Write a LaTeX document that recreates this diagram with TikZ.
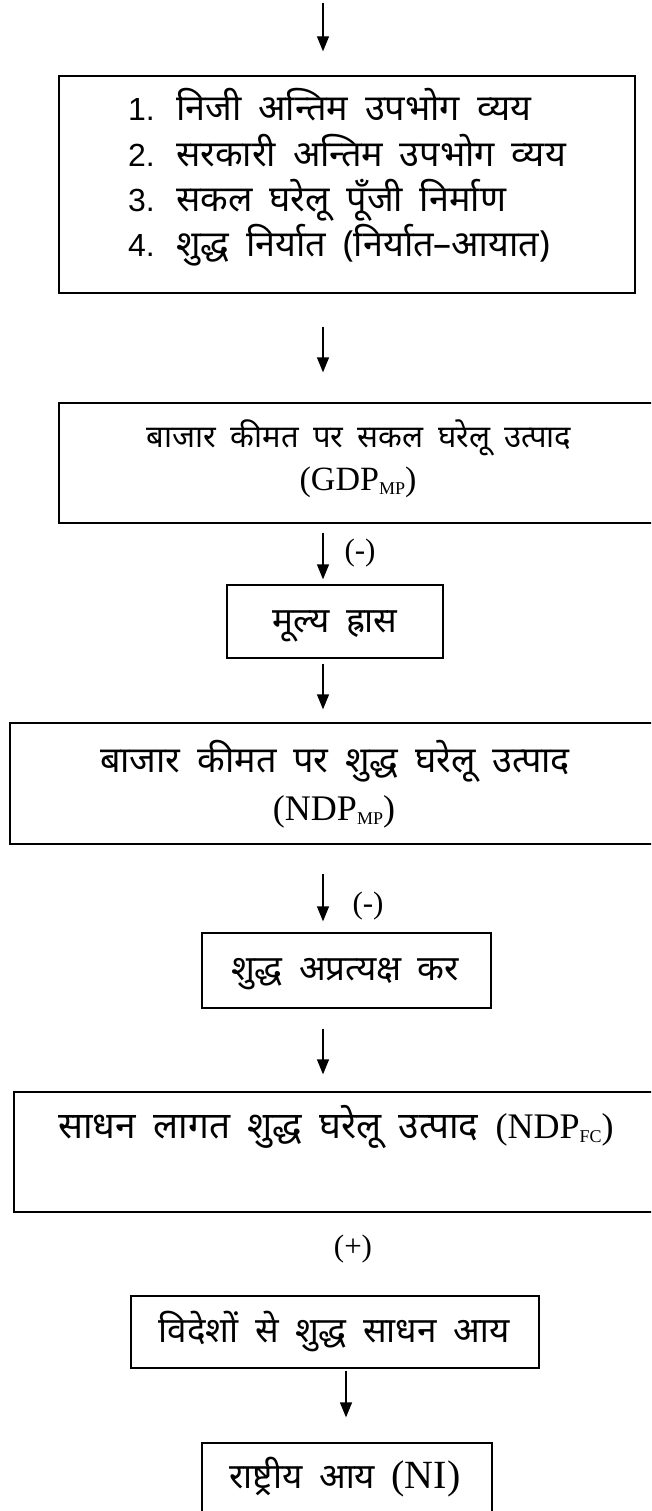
\documentclass[tikz,border=0pt]{standalone}
\usepackage{fontspec}
\setmainfont{Liberation Serif}
\newfontfamily\deva[Script=Devanagari,WordSpace=1.8]{Noto Sans}
\newfontfamily\arial{Liberation Sans}
\usetikzlibrary{arrows.meta}
\newcommand{\fs}[1]{\fontsize{#1}{#1}\selectfont}
\newcommand{\subs}[1]{\raisebox{-4pt}{\fs{18}#1}}
\tikzset{
  box/.style={draw, line width=1.3pt, inner sep=0pt, minimum width=#1},
  arr/.style={line width=1.3pt, -{Triangle[length=15pt,width=12pt]}},
  txt/.style={inner sep=0pt, anchor=base},
}
\begin{document}
\begin{tikzpicture}[x=1pt,y=-1pt]
\useasboundingbox (0,0) rectangle (651,1511);
\clip (0,0) rectangle (651,1511);
\coordinate (col) at (323,0);
\coordinate (start) at (323,3);
% boxes
\node[box=576pt, minimum height=217pt] (b1) at (347,184.5) {};
\node[box=598pt, minimum height=120pt] (b2) at (358,463) {};
\node[box=216pt, minimum height=73pt] (b3) at (335,621.5) {};
\node[box=650pt, minimum height=121pt] (b4) at (335,783.5) {};
\node[box=289pt, minimum height=75pt] (b5) at (346.5,970.5) {};
\node[box=644pt, minimum height=120pt] (b6) at (336,1152) {};
\node[box=408pt, minimum height=72pt] (b7) at (335,1332) {};
\node[box=290pt, minimum height=80pt] (b8) at (347,1483) {};
% texts
\node[txt, anchor=base west] (t1a) at (128,121) {\makebox[48pt][l]{\arial\fs{32}1.}\deva\fs{36}निजी अन्तिम उपभोग व्यय};
\node[txt, anchor=base west] (t1b) at (128,167) {\makebox[48pt][l]{\arial\fs{32}2.}\deva\fs{36}सरकारी अन्तिम उपभोग व्यय};
\node[txt, anchor=base west] (t1c) at (128,212) {\makebox[48pt][l]{\arial\fs{32}3.}\deva\fs{36}सकल घरेलू पूँजी निर्माण};
\node[txt, anchor=base west] (t1d) at (128,257) {\makebox[48pt][l]{\arial\fs{32}4.}\deva\fs{36}शुद्ध निर्यात (निर्यात–आयात)};
\node[txt] (t2a) at (359,447) {\deva\fs{31}बाजार कीमत पर सकल घरेलू उत्पाद};
\node[txt] (t2b) at (358,490) {\fs{34}(GDP\subs{MP})};
\node[txt] (t3) at (335,632) {\deva\fs{35}मूल्य ह्रास};
\node[txt] (t4a) at (335,772) {\deva\fs{36}बाजार कीमत पर शुद्ध घरेलू उत्पाद};
\node[txt] (t4b) at (334,820) {\fs{36}(NDP\subs{MP})};
\node[txt] (t5) at (345,980) {\deva\fs{35}शुद्ध अप्रत्यक्ष कर};
\node[txt] (t6) at (336,1138) {\deva\fs{37}साधन लागत शुद्ध घरेलू उत्पाद \rmfamily\fs{36}(NDP\subs{FC})};
\node[txt] (t7) at (334,1342) {\deva\fs{35}विदेशों से शुद्ध साधन आय};
\node[txt] (t8) at (345,1488) {\deva\fs{35}राष्ट्रीय आय \rmfamily\fs{40}(NI)};
\node[txt] (m1) at (360,560) {\fs{31}(-)};
\node[txt] (m2) at (368,913) {\fs{31}(-)};
\node[txt] (p1) at (353,1256) {\fs{31}(+)};
% arrows
\draw[arr] (start) -- (b1.north -| col) [shorten >=24pt];
\draw[arr, shorten <=33pt, shorten >=30pt] (b1.south -| col) -- (b2.north -| col);
\draw[arr, shorten <=9pt, shorten >=5pt] (b2.south -| col) -- (b3.north -| col);
\draw[arr, shorten <=5pt, shorten >=13pt] (b3.south -| col) -- (b4.north -| col);
\draw[arr, shorten <=29pt, shorten >=11pt] (b4.south -| col) -- (b5.north -| col);
\draw[arr, shorten <=20pt, shorten >=17pt] (b5.south -| col) -- (b6.north -| col);
\coordinate (col2) at (346,0);
\draw[arr, shorten <=2pt, shorten >=25pt] (b7.south -| col2) -- (b8.north -| col2);
\end{tikzpicture}
\end{document}
